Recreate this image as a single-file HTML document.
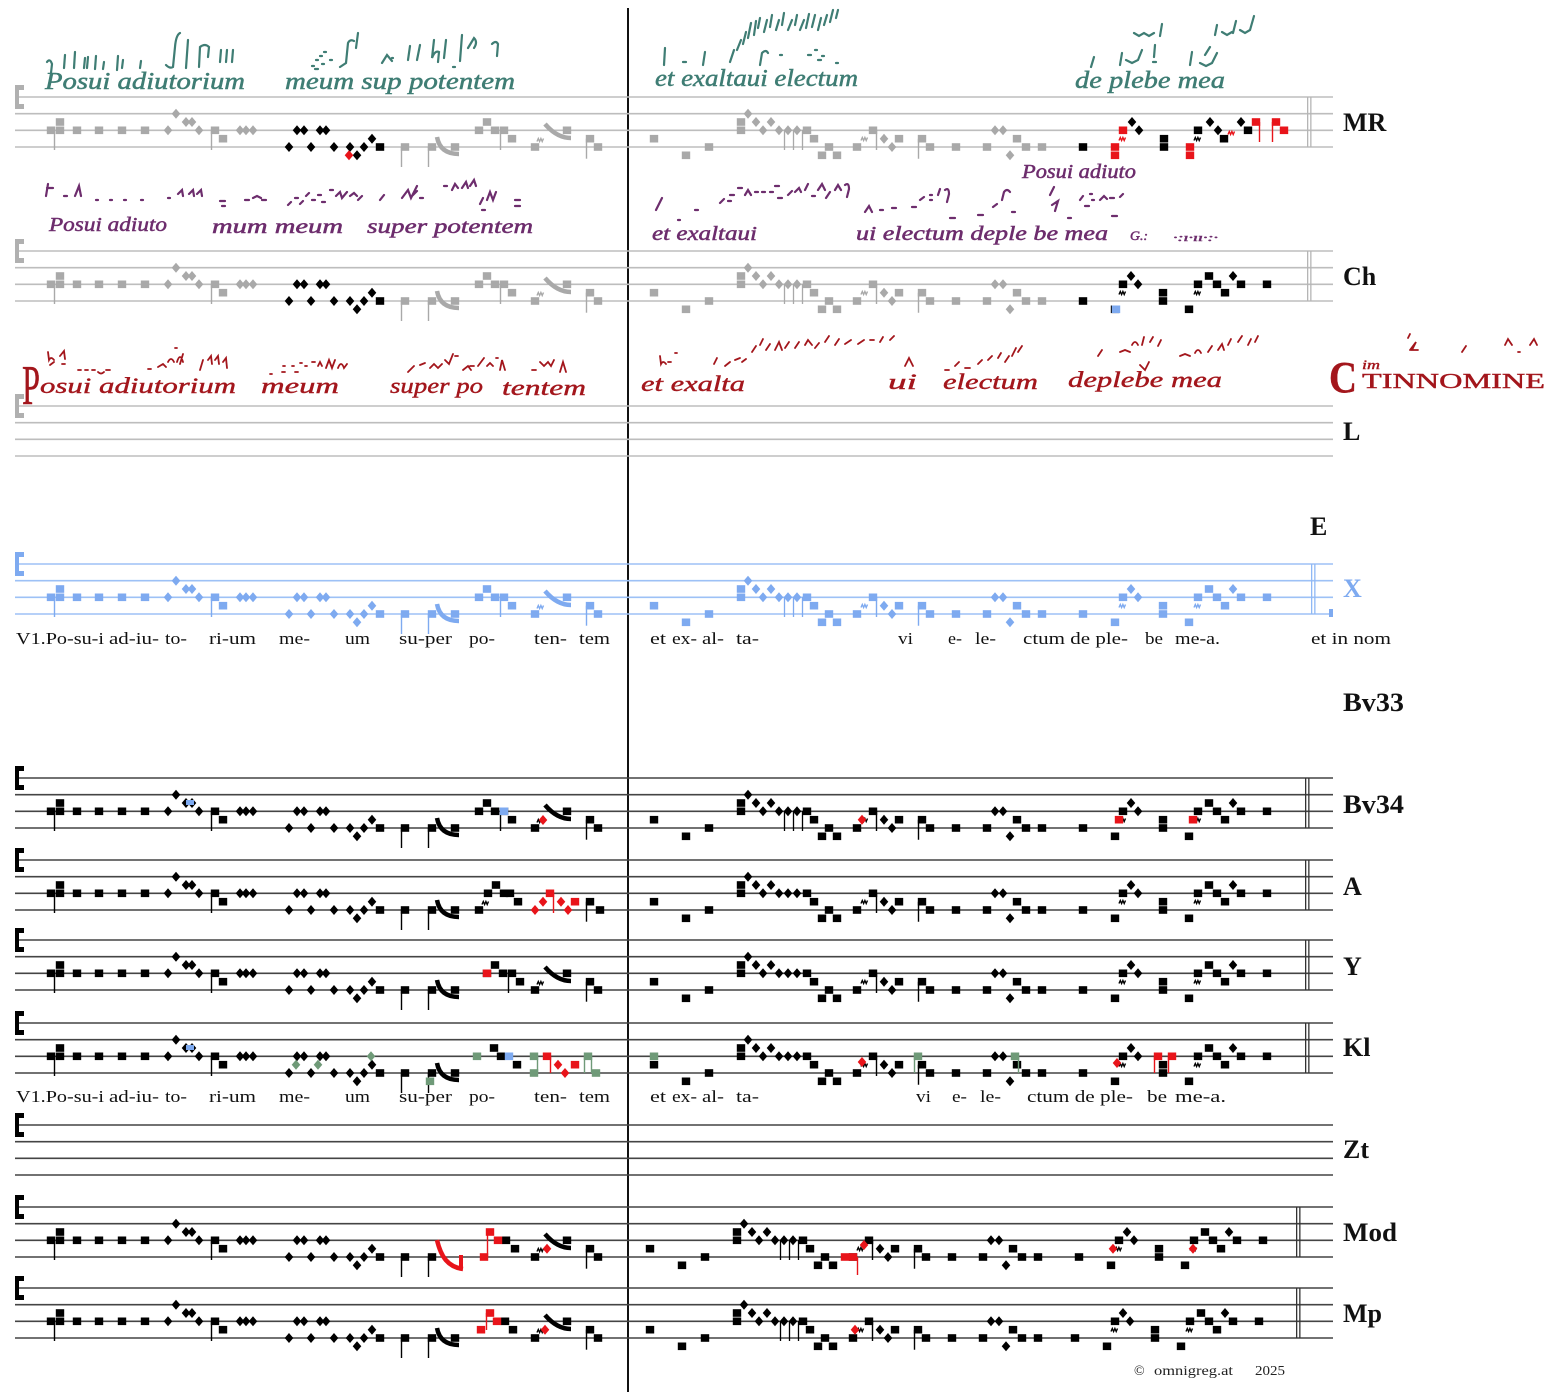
<!DOCTYPE html>
<html><head><meta charset="utf-8"><style>
html,body{margin:0;padding:0;background:#fff;}
svg{display:block;}
.ly{font-family:"Liberation Serif",serif;font-size:17px;fill:#111;}
.lb{font-family:"Liberation Serif",serif;font-size:26px;font-weight:bold;fill:#111;}
.ms{font-family:"Liberation Serif",serif;font-style:italic;}
</style></head><body>
<svg width="1563" height="1396" viewBox="0 0 1563 1396" xmlns="http://www.w3.org/2000/svg">
<rect width="1563" height="1396" fill="#fff"/>
<defs>
<rect id="q" x="-4.2" y="-3.8" width="8.4" height="7.6" fill="currentColor"/>
<path id="d" d="M0,-5L4.3,0L0,5L-4.3,0Z" fill="currentColor"/>
<path id="w" d="M-4,1.5l1.3,-3l1.3,3l1.3,-3l1.3,3l1.3,-3" fill="none" stroke="currentColor" stroke-width="1.4"/>
<path id="st" d="M15,0H1333M15,16.67H1333M15,33.33H1333M15,50H1333" stroke="currentColor" stroke-width="1.6" fill="none"/>
<path id="cl" d="M15,-12h9v5h-5v14h5v5h-9z" fill="currentColor"/>
<g id="db"><rect x="0" y="0" width="1.3" height="50" fill="currentColor"/><rect x="3.2" y="0" width="1.3" height="50" fill="currentColor"/></g>

<g id="s1">
<use href="#q" x="51" y="33.3"/><use href="#q" x="60" y="25"/><use href="#q" x="60" y="33.3"/>
<use href="#q" x="77" y="33.3"/><use href="#q" x="99" y="33.3"/><use href="#q" x="122" y="33.3"/><use href="#q" x="145" y="33.3"/>
<use href="#d" x="168" y="33.3"/><use href="#d" x="176" y="16.7"/><use href="#d" x="186" y="25"/><use href="#d" x="192" y="25"/><use href="#d" x="199" y="33.3"/>
<use href="#q" x="215" y="33.3"/><use href="#q" x="223" y="41.7"/>
<use href="#d" x="240" y="33.3"/><use href="#d" x="246" y="33.3"/><use href="#d" x="253" y="33.3"/>
<path d="M54.5,33v20M211.5,33v20" stroke="currentColor" stroke-width="1.4"/>
</g>
<g id="s2">
<use href="#d" x="289" y="50"/><use href="#d" x="297" y="33.3"/><use href="#d" x="304" y="33.3"/><use href="#d" x="311" y="50"/><use href="#d" x="320" y="33.3"/><use href="#d" x="326" y="33.3"/><use href="#d" x="334" y="50"/><use href="#d" x="350" y="50"/><use href="#d" x="357" y="58.3"/><use href="#d" x="364" y="50"/><use href="#d" x="372" y="41.7"/><use href="#q" x="380" y="50"/>
</g>
<g id="s3a">
<use href="#q" x="405" y="50"/><use href="#q" x="432" y="50"/>
<path d="M401.5,50v20M428.5,50v20" stroke="currentColor" stroke-width="1.4"/>
</g>
<g id="s3b">
<path d="M437,40C439,51 446,57 459,57" fill="none" stroke="currentColor" stroke-width="4.5"/>
<use href="#q" x="455" y="50"/>
</g>
<g id="s4a"><use href="#q" x="479" y="33.3"/><use href="#q" x="487" y="25"/><use href="#q" x="495" y="33.3"/><use href="#q" x="504" y="33.3"/><use href="#q" x="512" y="41.7"/><path d="M500.5,33v20" stroke="currentColor" stroke-width="1.4"/></g>
<g id="s4b"><use href="#q" x="535" y="50"/><use href="#w" x="541" y="43"/><path d="M545,27C551,34 560,41 571,41" fill="none" stroke="currentColor" stroke-width="4.5"/><use href="#q" x="567" y="33.3"/><use href="#q" x="590" y="41.7"/><use href="#q" x="598" y="50"/><path d="M586.5,41.7v20" stroke="currentColor" stroke-width="1.4"/></g>

<g id="r1"><use href="#q" x="654" y="41.7"/><use href="#q" x="686" y="58.3"/><use href="#q" x="709" y="50"/><use href="#q" x="741" y="25"/><use href="#q" x="741" y="33.3"/><use href="#d" x="748" y="16.7"/><use href="#d" x="756" y="25"/><use href="#d" x="763" y="33.3"/><use href="#d" x="771" y="25"/><use href="#d" x="779" y="33.3"/><use href="#d" x="788" y="33.3"/><use href="#d" x="797" y="33.3"/><use href="#q" x="807" y="33.3"/><use href="#q" x="814" y="41.7"/><use href="#q" x="822" y="58.3"/><use href="#q" x="829" y="50"/><use href="#q" x="837" y="58.3"/></g>
<path id="r1s" d="M784.5,33v20M793.5,33v20M802.5,33v20" stroke="currentColor" stroke-width="1.3"/>
<g id="r2"><use href="#q" x="857" y="50"/><use href="#w" x="865" y="42"/><use href="#q" x="873" y="33.3"/><use href="#d" x="884" y="41.7"/><use href="#d" x="892" y="50"/><use href="#q" x="899" y="41.7"/><use href="#q" x="922" y="41.7"/><use href="#q" x="930" y="50"/><use href="#q" x="956" y="50"/><use href="#q" x="987" y="50"/><use href="#d" x="995" y="33.3"/><use href="#d" x="1003" y="33.3"/><use href="#d" x="1010" y="58.3"/><use href="#q" x="1017" y="41.7"/><use href="#q" x="1026" y="50"/><use href="#q" x="1042" y="50"/><path d="M876.5,33v20M918.5,41.7v20" stroke="currentColor" stroke-width="1.4"/></g>
<g id="r3"><use href="#q" x="1083" y="50"/><use href="#q" x="1115" y="58.3"/><use href="#q" x="1123" y="33.3"/><use href="#w" x="1123" y="42"/><use href="#d" x="1131" y="25"/><use href="#d" x="1138" y="33.3"/><use href="#q" x="1163" y="41.7"/><use href="#q" x="1163" y="50"/><use href="#q" x="1189" y="58.3"/><use href="#q" x="1198" y="33.3"/><use href="#w" x="1198" y="42"/><use href="#q" x="1209" y="25"/><use href="#q" x="1217" y="33.3"/><use href="#q" x="1225" y="41.7"/><use href="#d" x="1233" y="25"/><use href="#q" x="1241" y="33.3"/><use href="#q" x="1267" y="33.3"/></g>
</defs>

<!-- vertical divider -->
<rect x="627" y="8" width="2" height="1384" fill="#111"/>

<!-- ===== MR ===== -->
<g transform="translate(0,97)">
<use href="#st" style="color:#bdbdbd"/>
<use href="#cl" style="color:#b0b0b0"/>
<g style="color:#a9a9a9"><use href="#s1"/><use href="#s3a"/><use href="#s3b"/><use href="#s4a"/><use href="#s4b"/><use href="#r1"/><use href="#r1s"/><use href="#r2"/></g>
<g style="color:#000"><use href="#s2"/></g>
<use href="#d" x="349" y="58.3" style="color:#e8141a"/>
<g style="color:#000">
<use href="#q" x="1083" y="50"/><use href="#d" x="1132" y="25"/><use href="#d" x="1139" y="33.3"/>
<use href="#q" x="1164" y="41.7"/><use href="#q" x="1164" y="50"/>
<use href="#q" x="1198" y="33.3"/><use href="#w" x="1198" y="42"/><use href="#d" x="1210" y="25"/><use href="#d" x="1218" y="33.3"/><use href="#q" x="1224" y="41.7"/><use href="#d" x="1241" y="25"/><use href="#q" x="1248" y="33.3"/>
</g>
<g style="color:#e8141a">
<use href="#q" x="1115" y="50"/><use href="#q" x="1115" y="58.3"/><use href="#q" x="1123" y="33.3"/><use href="#w" x="1123" y="42"/>
<use href="#q" x="1190" y="50"/><use href="#q" x="1190" y="58.3"/><use href="#w" x="1232" y="36"/>
<use href="#q" x="1256" y="25"/><use href="#q" x="1276" y="25"/><use href="#q" x="1284" y="33.3"/>
<path d="M1259.5,25v20M1272.5,25v20" stroke="currentColor" stroke-width="1.4"/>
</g>
<use href="#db" x="1307" style="color:#b5b5b5"/>
</g>

<!-- ===== Ch ===== -->
<g transform="translate(0,251)">
<use href="#st" style="color:#bdbdbd"/>
<use href="#cl" style="color:#b0b0b0"/>
<g style="color:#a9a9a9"><use href="#s1"/><use href="#s3a"/><use href="#s3b"/><use href="#s4a"/><use href="#s4b"/><use href="#r1"/><use href="#r1s"/><use href="#r2"/></g>
<g style="color:#000"><use href="#s2"/><use href="#r3"/></g>
<use href="#q" x="1116" y="58.3" style="color:#7eaaf0"/>
<use href="#db" x="1307" style="color:#b5b5b5"/>
</g>

<!-- ===== L ===== -->
<g transform="translate(0,406)">
<use href="#st" style="color:#bdbdbd"/>
<use href="#cl" style="color:#b0b0b0"/>
</g>

<!-- ===== X ===== -->
<g transform="translate(0,564)">
<use href="#st" style="color:#9dc1f6"/>
<g style="color:#7eaaf0"><use href="#cl"/><use href="#s1"/><use href="#s2"/><use href="#s3a"/><use href="#s3b"/><use href="#s4a"/><use href="#s4b"/><use href="#r1"/><use href="#r1s"/><use href="#r2"/><use href="#r3"/></g>
<use href="#db" x="1311" style="color:#8fb8f5"/>
<rect x="1329" y="45" width="4" height="8" fill="#7eaaf0"/>
</g>

<!-- ===== Bv34 ===== -->
<g transform="translate(0,778)">
<use href="#st" style="color:#444"/>
<g style="color:#000"><use href="#cl"/><use href="#s1"/><use href="#s2"/><use href="#s3a"/><use href="#s3b"/><use href="#s4a"/><use href="#s4b"/><use href="#r1"/><use href="#r1s"/><use href="#r2"/><use href="#r3"/></g>
<rect x="186" y="22" width="8" height="5" fill="#7eaaf0"/>
<use href="#q" x="504" y="33.3" style="color:#7eaaf0"/>
<g style="color:#e8141a"><use href="#d" x="543" y="42"/><use href="#d" x="862" y="41.7"/><use href="#q" x="1119" y="41.7"/><use href="#q" x="1193" y="41.7"/></g>
<use href="#db" x="1305" style="color:#333"/>
</g>

<!-- ===== A ===== -->
<g transform="translate(0,860)">
<use href="#st" style="color:#444"/>
<g style="color:#000"><use href="#cl"/><use href="#s1"/><use href="#s2"/><use href="#s3a"/><use href="#s3b"/><use href="#r1"/><use href="#r2"/><use href="#r3"/>
<use href="#q" x="479" y="50"/><use href="#w" x="486" y="43"/><use href="#q" x="488" y="33.3"/><use href="#q" x="496" y="25"/><use href="#q" x="504" y="33.3"/><use href="#q" x="510" y="33.3"/><use href="#q" x="518" y="41.7"/>
<use href="#q" x="590" y="41.7"/><use href="#q" x="600" y="50"/><path d="M586.5,41.7v20" stroke="currentColor" stroke-width="1.4"/>
</g>
<g style="color:#e8141a"><use href="#d" x="535" y="50"/><use href="#d" x="543" y="41.7"/><use href="#q" x="550" y="33.3"/><use href="#d" x="561" y="41.7"/><use href="#d" x="568" y="50"/><use href="#q" x="575" y="41.7"/><path d="M553.5,33v20" stroke="currentColor" stroke-width="1.4"/></g>
<use href="#db" x="1305" style="color:#333"/>
</g>

<!-- ===== Y ===== -->
<g transform="translate(0,940)">
<use href="#st" style="color:#444"/>
<g style="color:#000"><use href="#cl"/><use href="#s1"/><use href="#s2"/><use href="#s3a"/><use href="#s3b"/><use href="#s4a" x="8"/><use href="#s4b"/><use href="#r1"/><use href="#r2"/><use href="#r3"/></g>
<use href="#q" x="487" y="33.3" style="color:#e8141a"/>
<use href="#db" x="1305" style="color:#333"/>
</g>

<!-- ===== Kl ===== -->
<g transform="translate(0,1023)">
<use href="#st" style="color:#444"/>
<g style="color:#000"><use href="#cl"/><use href="#s1"/><use href="#s2"/><use href="#s3a"/><use href="#s3b"/><use href="#q" x="494" y="25"/><use href="#q" x="501" y="33.3"/><use href="#q" x="517" y="41.7"/><use href="#r1"/><use href="#r2"/><use href="#r3"/></g>
<rect x="186" y="22" width="8" height="5" fill="#7eaaf0"/>
<use href="#q" x="509" y="33.3" style="color:#7eaaf0"/>
<g style="color:#6f9a78"><use href="#d" x="296" y="41.7"/><use href="#d" x="318" y="41.7"/><use href="#d" x="371" y="33.3"/><use href="#q" x="430" y="58.3"/><use href="#q" x="477" y="33.3"/><use href="#q" x="534" y="33.3"/><use href="#q" x="534" y="50"/><use href="#q" x="588" y="33.3"/><use href="#q" x="596" y="50"/><use href="#q" x="654" y="33.3"/><use href="#q" x="918" y="33.3"/><use href="#q" x="1015" y="33.3"/>
<path d="M537.5,33v17M591.5,33v17M584.5,33v17M914.5,33v17M1018.5,33v17" stroke="currentColor" stroke-width="1.4"/></g>
<g style="color:#e8141a"><use href="#q" x="547" y="33.3"/><use href="#d" x="558" y="41.7"/><use href="#d" x="565" y="50"/><use href="#q" x="575" y="41.7"/><use href="#d" x="862" y="39"/><use href="#d" x="1117" y="40"/><use href="#q" x="1158" y="33.3"/><use href="#q" x="1172" y="33.3"/>
<path d="M550.5,33v17M1154.5,33v17M1168.5,33v17" stroke="currentColor" stroke-width="1.4"/></g>
<use href="#db" x="1305" style="color:#333"/>
</g>

<!-- ===== Zt ===== -->
<g transform="translate(0,1125)">
<use href="#st" style="color:#444"/>
<use href="#cl" style="color:#000"/>
</g>

<!-- ===== Mod ===== -->
<g transform="translate(0,1207)">
<use href="#st" style="color:#444"/>
<g style="color:#000"><use href="#cl"/><use href="#s1"/><use href="#s2"/><use href="#s3a"/><use href="#s4b"/>
<use href="#q" x="506" y="33.3"/><use href="#q" x="515" y="41.7"/>
<g transform="translate(-4,0)"><use href="#r1"/><use href="#r1s"/><use href="#r2"/></g>
<g transform="translate(-4,0)"><use href="#r3"/></g></g>
<g style="color:#e8141a">
<path d="M437,33C441,50 448,60 463,62" fill="none" stroke="currentColor" stroke-width="4.5"/><rect x="459" y="48" width="4" height="14" fill="currentColor"/>
<use href="#q" x="484" y="50"/><use href="#q" x="490" y="25"/><use href="#q" x="498" y="33.3"/><path d="M487.5,25v25" stroke="currentColor" stroke-width="1.4"/>
<use href="#d" x="547" y="41.7"/>
<use href="#q" x="845" y="50"/><use href="#q" x="853" y="50"/><path d="M857.5,50v18" stroke="currentColor" stroke-width="1.4"/><use href="#d" x="864" y="38"/>
<use href="#d" x="1113" y="41.7"/><use href="#d" x="1193" y="41.7"/>
</g>
<use href="#db" x="1296" style="color:#333"/>
</g>

<!-- ===== Mp ===== -->
<g transform="translate(0,1288)">
<use href="#st" style="color:#444"/>
<g style="color:#000"><use href="#cl"/><use href="#s1"/><use href="#s2"/><use href="#s3a"/><use href="#s3b"/><use href="#s4b"/>
<use href="#q" x="505" y="33.3"/><use href="#q" x="513" y="41.7"/>
<g transform="translate(-4,0)"><use href="#r1"/><use href="#r1s"/><use href="#r2"/></g>
<g transform="translate(-8,0)"><use href="#r3"/></g></g>
<g style="color:#e8141a">
<use href="#q" x="481" y="41.7"/><use href="#q" x="490" y="25"/><use href="#q" x="497" y="33.3"/><path d="M486.5,25v17" stroke="currentColor" stroke-width="1.4"/>
<use href="#d" x="545" y="41.7"/><use href="#d" x="855" y="41.7"/>
</g>
<use href="#db" x="1296" style="color:#333"/>
</g>

<!-- ===== Labels ===== -->
<text class="lb" x="1343" y="131">MR</text>
<text class="lb" x="1343" y="285">Ch</text>
<text class="lb" x="1343" y="440">L</text>
<text class="lb" x="1310" y="535">E</text>
<text class="lb" x="1343" y="597" style="fill:#7eaaf0">X</text>
<text class="lb" x="1343" y="711" textLength="61" lengthAdjust="spacingAndGlyphs">Bv33</text>
<text class="lb" x="1343" y="813" textLength="61" lengthAdjust="spacingAndGlyphs">Bv34</text>
<text class="lb" x="1343" y="895">A</text>
<text class="lb" x="1343" y="975">Y</text>
<text class="lb" x="1343" y="1056">Kl</text>
<text class="lb" x="1343" y="1158">Zt</text>
<text class="lb" x="1343" y="1241" textLength="54" lengthAdjust="spacingAndGlyphs">Mod</text>
<text class="lb" x="1343" y="1322">Mp</text>

<!-- ===== Lyrics under X ===== -->
<g class="ly">
<text x="16" y="644" textLength="88" lengthAdjust="spacingAndGlyphs">V1.Po-su-i</text>
<text x="109" y="644" textLength="50" lengthAdjust="spacingAndGlyphs">ad-iu-</text>
<text x="165" y="644" textLength="22" lengthAdjust="spacingAndGlyphs">to-</text>
<text x="209" y="644" textLength="47" lengthAdjust="spacingAndGlyphs">ri-um</text>
<text x="279" y="644" textLength="31" lengthAdjust="spacingAndGlyphs">me-</text>
<text x="345" y="644" textLength="25" lengthAdjust="spacingAndGlyphs">um</text>
<text x="399" y="644" textLength="53" lengthAdjust="spacingAndGlyphs">su-per</text>
<text x="469" y="644" textLength="26" lengthAdjust="spacingAndGlyphs">po-</text>
<text x="534" y="644" textLength="33" lengthAdjust="spacingAndGlyphs">ten-</text>
<text x="579" y="644" textLength="31" lengthAdjust="spacingAndGlyphs">tem</text>
<text x="650" y="644" textLength="16" lengthAdjust="spacingAndGlyphs">et</text>
<text x="672" y="644" textLength="25" lengthAdjust="spacingAndGlyphs">ex-</text>
<text x="702" y="644" textLength="22" lengthAdjust="spacingAndGlyphs">al-</text>
<text x="736" y="644" textLength="23" lengthAdjust="spacingAndGlyphs">ta-</text>
<text x="898" y="644" textLength="15" lengthAdjust="spacingAndGlyphs">vi</text>
<text x="948" y="644" textLength="14" lengthAdjust="spacingAndGlyphs">e-</text>
<text x="975" y="644" textLength="21" lengthAdjust="spacingAndGlyphs">le-</text>
<text x="1023" y="644" textLength="105" lengthAdjust="spacingAndGlyphs">ctum de ple-</text>
<text x="1145" y="644" textLength="18" lengthAdjust="spacingAndGlyphs">be</text>
<text x="1175" y="644" textLength="45" lengthAdjust="spacingAndGlyphs">me-a.</text>
<text x="1311" y="644" textLength="80" lengthAdjust="spacingAndGlyphs">et in nom</text>
</g>
<!-- ===== Lyrics under Kl ===== -->
<g class="ly">
<text x="16" y="1102" textLength="88" lengthAdjust="spacingAndGlyphs">V1.Po-su-i</text>
<text x="109" y="1102" textLength="50" lengthAdjust="spacingAndGlyphs">ad-iu-</text>
<text x="165" y="1102" textLength="22" lengthAdjust="spacingAndGlyphs">to-</text>
<text x="209" y="1102" textLength="47" lengthAdjust="spacingAndGlyphs">ri-um</text>
<text x="279" y="1102" textLength="31" lengthAdjust="spacingAndGlyphs">me-</text>
<text x="345" y="1102" textLength="25" lengthAdjust="spacingAndGlyphs">um</text>
<text x="399" y="1102" textLength="53" lengthAdjust="spacingAndGlyphs">su-per</text>
<text x="469" y="1102" textLength="26" lengthAdjust="spacingAndGlyphs">po-</text>
<text x="534" y="1102" textLength="33" lengthAdjust="spacingAndGlyphs">ten-</text>
<text x="579" y="1102" textLength="31" lengthAdjust="spacingAndGlyphs">tem</text>
<text x="650" y="1102" textLength="16" lengthAdjust="spacingAndGlyphs">et</text>
<text x="672" y="1102" textLength="25" lengthAdjust="spacingAndGlyphs">ex-</text>
<text x="702" y="1102" textLength="22" lengthAdjust="spacingAndGlyphs">al-</text>
<text x="736" y="1102" textLength="23" lengthAdjust="spacingAndGlyphs">ta-</text>
<text x="916" y="1102" textLength="15" lengthAdjust="spacingAndGlyphs">vi</text>
<text x="952" y="1102" textLength="15" lengthAdjust="spacingAndGlyphs">e-</text>
<text x="980" y="1102" textLength="21" lengthAdjust="spacingAndGlyphs">le-</text>
<text x="1027" y="1102" textLength="106" lengthAdjust="spacingAndGlyphs">ctum de ple-</text>
<text x="1147" y="1102" textLength="20" lengthAdjust="spacingAndGlyphs">be</text>
<text x="1175" y="1102" textLength="51" lengthAdjust="spacingAndGlyphs">me-a.</text>
</g>

<!-- copyright -->
<text x="1134" y="1375" style="font-family:'Liberation Serif',serif;font-size:14px;fill:#222">©</text>
<text x="1154" y="1375" textLength="79" lengthAdjust="spacingAndGlyphs" style="font-family:'Liberation Serif',serif;font-size:14px;fill:#222">omnigreg.at</text>
<text x="1255" y="1375" textLength="30" lengthAdjust="spacingAndGlyphs" style="font-family:'Liberation Serif',serif;font-size:14px;fill:#222">2025</text>

<!-- ===== Teal manuscript (MR) ===== -->
<g class="ms" style="font-size:24px;fill:#3f7d74;stroke:#3f7d74;stroke-width:0.5">
<text x="45" y="89" textLength="200" lengthAdjust="spacingAndGlyphs">Posui adiutorium</text>
<text x="285" y="89" textLength="230" lengthAdjust="spacingAndGlyphs">meum sup potentem</text>
<text x="655" y="86" textLength="203" lengthAdjust="spacingAndGlyphs">et exaltaui electum</text>
<text x="1075" y="88" textLength="150" lengthAdjust="spacingAndGlyphs">de plebe mea</text>
</g>
<path fill="none" stroke="#3f7d74" stroke-width="2.2" stroke-linecap="round" d="
M47,62q3,-4 5,2l-1,9M65,55l-1,13M75,52l-1,16M85,58l-1,10M88,57l-1,11M96,56l-1,13M104,62l-1,7M118,56l-1,14M123,60l-1,8M141,61l-1,7
M180,33q-4,2 -5,14l-2,20q-3,2 -7,-2M188,40l-2,28M200,47l-1,20M200,47q5,-4 9,0l-1,10M221,50l-1,12M227,50l-1,12M233,50l-1,12
M312,66l2,0M316,60l2,0M320,56l2,0M324,52l2,0M315,69l3,0M322,64l2,0M330,60l2,0
M340,67l6,-4l2,-20q2,-4 6,-2M358,33l-2,15M382,63l5,-8l5,6M392,58l1,0M410,46l-2,14M420,45l-3,15
M434,40l-2,18q3,-8 7,-6l-1,10M446,40l-2,18M462,35l-2,26M468,48l6,-10q4,4 0,10M492,44q4,-4 6,0l-1,12M453,67l2,0
M665,48l-1,17M683,62l3,0M705,52l-2,13M730,62l4,-12M737,50l4,-10M743,44l3,-12
M748,38l3,-15M754,35l2,-14M758,28l2,-10M764,32l3,-12M770,27l2,-12M776,30l3,-10M782,25l2,-12M788,30l4,-10M795,25l2,-10M800,30l4,-10M806,28l3,-14M812,27l3,-12M818,30l3,-12M824,25l3,-10M830,22l3,-12M836,18l2,-8
M760,65l2,-12q4,-4 6,0M780,55l2,0M808,55l3,0M815,50l2,0M818,60l3,0M822,56l2,0M836,63l2,0
M1091,67l3,-10M1120,65l2,-12M1126,60l6,3l6,-3l4,-10M1134,33l5,3l5,-3l5,3l5,-3M1160,36l2,-12M1155,45l-1,12M1153,62l3,0
M1190,65l2,-13M1200,63l6,3l6,-3l5,-10M1205,55l5,-8M1215,35l2,-10M1222,32l5,3l5,-3M1233,33l3,-12M1240,30l5,3l5,-3l4,-14"/>

<!-- ===== Purple manuscript (Ch) ===== -->
<g class="ms" style="font-size:20px;fill:#6d2d6d;stroke:#6d2d6d;stroke-width:0.5">
<text x="49" y="231" textLength="118" lengthAdjust="spacingAndGlyphs">Posui adiuto</text>
<text x="212" y="233" textLength="131" lengthAdjust="spacingAndGlyphs">mum meum</text>
<text x="367" y="233" textLength="166" lengthAdjust="spacingAndGlyphs">super potentem</text>
<text x="652" y="240" textLength="105" lengthAdjust="spacingAndGlyphs">et exaltaui</text>
<text x="856" y="240" textLength="252" lengthAdjust="spacingAndGlyphs">ui electum deple be mea</text>
<text x="1022" y="178" textLength="114" lengthAdjust="spacingAndGlyphs">Posui adiuto</text>
<text x="1130" y="240" textLength="18" lengthAdjust="spacingAndGlyphs" style="font-size:13px">G.:</text>
<text x="1173" y="241" textLength="45" lengthAdjust="spacingAndGlyphs" style="font-size:10px">·:ı·ıı·:·</text>
</g>
<path fill="none" stroke="#6d2d6d" stroke-width="2.2" stroke-linecap="round" d="
M48,184l-2,12M47,188l6,0M64,196l3,0M75,196l4,-10l2,10M96,200l2,0M110,200l2,0M124,200l2,0M141,200l2,0
M168,198l2,0M178,194l4,-4l1,6M189,194l4,-4l1,6M197,194l4,-4l1,6M220,201l5,0M222,206l3,0
M245,200l4,0M253,198l4,-2l4,2M262,200l4,0
M288,205l3,-3M295,198l3,0M300,204l3,-3M306,196l3,-3M312,200l3,0M318,195l3,0M322,202l3,0M330,190l3,0M336,196l4,-4l2,6l5,-6M350,196l4,-3l3,3M358,200l4,-4
M380,200l4,-5M402,198l6,-8l3,8l6,-12M412,196l5,-5M420,198l3,0
M444,186l3,0M452,190l3,-6l3,4M462,188l4,-6l2,6M470,186l4,-6l2,6M480,204l3,-6M487,200l3,-8l3,8l3,-8M482,210l3,0M515,200l5,0M515,206l5,0
M656,210l6,-12M678,220l2,0M695,210l3,0
M720,203l4,-4M730,195l4,0M728,201l3,0M738,188l4,0M745,195l3,-5l3,5M755,192l3,0M762,192l3,0M770,192l3,0M775,186l4,0M778,198l4,0M788,195l4,-4M795,192l4,-4l2,4M805,190l3,-6M812,196l3,0M818,190l4,-6l3,6M826,198l4,-6M835,190l3,-5l3,5M845,185q4,-3 4,4l-2,8
M865,212l4,-6l3,6M880,210l3,0M892,208l4,0M912,207l4,0M920,200l4,-3M930,195l2,0M930,200l2,0M938,195l2,-6M945,190q4,-3 4,4l-2,8
M950,218l5,0M978,215l5,0M993,207l4,-3M1002,200l2,-8q3,-4 6,0M1012,212l3,0M1050,195l4,-8M1052,205l6,-4l-3,10M1068,218l3,0
M1080,200l3,-4M1085,206l4,0M1090,194l2,0M1092,200l2,0M1100,200l4,-4l3,3M1110,198l4,0M1112,216l5,0M1120,197l3,-3"/>

<!-- ===== Red manuscript (L) ===== -->
<g class="ms" style="font-size:22px;fill:#a3161c;stroke:#a3161c;stroke-width:0.4">
<text x="22" y="404" textLength="18" lengthAdjust="spacingAndGlyphs" style="font-size:56px;font-style:normal">P</text>
<text x="40" y="393" textLength="196" lengthAdjust="spacingAndGlyphs">osui adiutorium</text>
<text x="261" y="393" textLength="78" lengthAdjust="spacingAndGlyphs">meum</text>
<text x="390" y="393" textLength="93" lengthAdjust="spacingAndGlyphs">super po</text>
<text x="502" y="395" textLength="84" lengthAdjust="spacingAndGlyphs">tentem</text>
<text x="641" y="391" textLength="104" lengthAdjust="spacingAndGlyphs">et exalta</text>
<text x="888" y="389" textLength="29" lengthAdjust="spacingAndGlyphs">ui</text>
<text x="943" y="389" textLength="95" lengthAdjust="spacingAndGlyphs">electum</text>
<text x="1068" y="387" textLength="154" lengthAdjust="spacingAndGlyphs">deplebe mea</text>
<text x="1329" y="392" textLength="28" lengthAdjust="spacingAndGlyphs" style="font-size:44px;font-style:normal;font-weight:bold">C</text>
<text x="1362" y="369" textLength="18" lengthAdjust="spacingAndGlyphs" style="font-size:13px">im</text>
<text x="1362" y="388" textLength="183" lengthAdjust="spacingAndGlyphs" style="font-size:21px;font-style:normal">TINNOMINE</text>
</g>
<path fill="none" stroke="#a3161c" stroke-width="1.8" stroke-linecap="round" d="
M48,352l1,8q2,-4 5,0M50,365l4,-3M60,356l4,-5l1,8M62,364l3,0M78,370l3,0M85,370l3,0M92,370l3,0M98,372q3,3 6,0M106,370l4,0
M148,369l3,0M158,367l5,-3l3,3M168,362q3,-6 6,0M175,348l2,0M177,362q3,-10 6,0M180,364l3,-10
M200,370l3,-10M208,360l3,-4l1,8M215,360l3,-4l1,8M223,362l3,-4l1,10
M270,374l2,0M282,372l3,0M283,366l2,0M292,366l2,0M295,372l3,0M300,363l2,0M305,366l2,0M312,362l3,0M318,366l2,-4l2,4M326,368l3,-8l3,8l3,-8M338,368q3,-8 6,0l3,-4
M408,372l6,-6M420,365l5,-2M430,368l4,-4l4,4l4,-4M445,360l4,4l4,-10M455,356l3,0M463,370l5,-4l3,4M470,366l4,0M478,366l6,-8M487,366l3,-3l3,3M496,358l2,0M500,370l2,-10l3,10
M532,370l4,0M540,362l4,4l4,-4l3,4l3,-6M560,372l3,-10l3,10
M660,356l1,8q2,-4 5,0M668,362l3,0M675,353l2,0
M714,364l3,-6M725,366l5,-4M735,360l5,-2M742,362l4,-3M752,352l4,-6M760,345l3,-6M766,350l4,-6M775,350l4,-8l3,8M785,348l4,-6M795,348l4,-6M805,345l3,-5l4,5M815,348l4,-5M825,342l4,-6M835,345l4,-6M845,344l6,-4M858,344l6,-4M870,340l4,0M880,342l3,-5M890,340l4,-4
M905,366l4,-8l4,8M945,370l4,0M955,366l4,-4M965,368l5,0M978,364l4,-4M988,360l4,-4M998,358l3,-5M1005,362l4,-6M1012,356l4,-8M1018,352l4,-6
M1098,356l4,-6M1120,352l5,-2l5,2M1132,345q3,-6 6,0M1142,345l2,-8M1150,342l3,-5M1158,346l3,-6M1140,365l5,5l4,-8
M1180,356l5,-2l5,2M1195,353q3,-6 6,0M1208,352l4,-6M1218,350l4,-6l2,6M1228,345l3,-6M1238,342l4,-6M1248,345l3,-6M1255,342l3,-6
M1408,338l2,-4M1410,350l6,-8l-4,8l6,0M1462,352l4,-6M1505,345l3,-6l4,6M1518,352l2,0M1530,345l4,-6l3,6"/>
</svg>
</body></html>
